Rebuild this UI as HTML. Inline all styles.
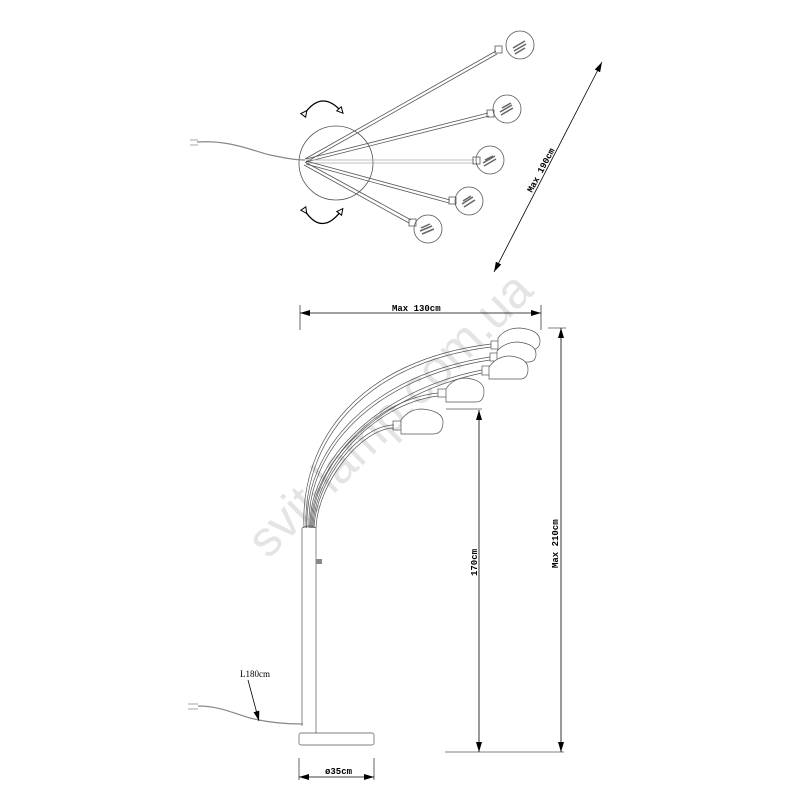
<!DOCTYPE html>
<html><head><meta charset="utf-8"><style>
html,body{margin:0;padding:0;background:#fff;}
svg{display:block}
text{font-family:"Liberation Mono","DejaVu Sans Mono",monospace;}
</style></head><body>
<svg width="800" height="800" viewBox="0 0 800 800" xmlns="http://www.w3.org/2000/svg">
<defs>
<marker id="ah" viewBox="0 0 10 6" refX="10" refY="3" markerWidth="10" markerHeight="6" orient="auto-start-reverse" markerUnits="userSpaceOnUse"><path d="M0,0 L10,3 L0,6 z" fill="#000"/></marker>
<marker id="oa" viewBox="0 0 8 8" refX="4" refY="4" markerWidth="8" markerHeight="8" orient="auto" markerUnits="userSpaceOnUse"><path d="M1,1 L7,4 L1,7 z" fill="#fff" stroke="#000" stroke-width="1"/></marker>
</defs>
<text x="0" y="0" font-size="50" fill="#e4e4e4" transform="translate(268,560) rotate(-45)" style="font-family:'Liberation Sans',sans-serif">svit-lamp.com.ua</text>

<g fill="none" stroke="#555" stroke-width="0.8">
<circle cx="336" cy="163" r="37"/>
<path d="M197,142 C230,140 250,150 270,155 C285,158 295,160 305,160" stroke="#888" stroke-width="1.2"/>
<path d="M190,140 h8 M190,145 h8" stroke="#888"/>
<path d="M305,159 L496,51 M306,162 L497,54"/>
<path d="M306,159 L488,113 M306,162 L489,116"/>
<path d="M307,160 L474,160 M307,163 L474,163" stroke="#aaa"/>
<path d="M306,161 L450,200 M306,164 L449,203"/>
<path d="M305,162 L411,220 M304,165 L409,223"/>
<rect x="495" y="46" width="7" height="7"/>
<rect x="487" y="110" width="7" height="7"/>
<rect x="473" y="157" width="7" height="7"/>
<rect x="449" y="197" width="7" height="7"/>
<rect x="409" y="219" width="7" height="7"/>
<circle cx="520" cy="45" r="14"/>
<circle cx="507" cy="109" r="14"/>
<circle cx="490" cy="160" r="14"/>
<circle cx="469" cy="201" r="14"/>
<circle cx="428" cy="229" r="14"/>
</g>
<g stroke="#666" stroke-width="1.5">
<path d="M513,48 l12,-7 M514,51 l12,-7 M515,54 l10,-6"/>
<path d="M500,112 l12,-7 M501,115 l12,-7 M502,108 l9,-5"/>
<path d="M483,163 l12,-7 M484,166 l12,-7 M485,160 l8,-4"/>
<path d="M462,204 l11,-7 M464,207 l11,-7 M463,201 l8,-5"/>
<path d="M420,231 l12,-5 M422,234 l12,-5 M421,228 l9,-4"/>
</g>
<path d="M305,113 Q322,90 341,111" fill="none" stroke="#000" stroke-width="1.3" marker-start="url(#oa)" marker-end="url(#oa)"/>
<path d="M305,211 Q322,236 341,211" fill="none" stroke="#000" stroke-width="1.3" marker-start="url(#oa)" marker-end="url(#oa)"/>
<line x1="602" y1="62" x2="494" y2="272" stroke="#000" stroke-width="0.8" marker-start="url(#ah)" marker-end="url(#ah)"/>
<text x="0" y="0" font-size="9" font-weight="bold" transform="translate(532,193) rotate(-62)">Max 190cm</text>

<line x1="300" y1="313" x2="541" y2="313" stroke="#000" stroke-width="0.8" marker-start="url(#ah)" marker-end="url(#ah)"/>
<line x1="300" y1="305" x2="300" y2="330" stroke="#000" stroke-width="0.6"/>
<line x1="541" y1="305" x2="541" y2="330" stroke="#000" stroke-width="0.6"/>
<text x="392" y="311" font-size="9" font-weight="bold">Max 130cm</text>

<g fill="none" stroke="#555" stroke-width="0.7">
<path d="M304,528 C300,440 360,360 491,344"/>
<path d="M306,528 C303,442 362,363 491,347"/>
<path d="M307,528 C304,450 370,375 490,357"/>
<path d="M309,528 C306,452 372,378 490,360"/>
<path d="M310,528 C308,460 380,390 482,370"/>
<path d="M311,528 C310,462 382,394 482,373"/>
<path d="M312,528 C312,470 370,400 438,393"/>
<path d="M313,528 C314,472 372,404 438,396"/>
<path d="M314,528 C316,480 360,425 394,425"/>
<path d="M316,528 C318,482 362,428 394,428"/>
<rect x="491" y="341" width="8" height="8"/>
<rect x="490" y="353" width="8" height="8"/>
<rect x="482" y="366" width="8" height="9"/>
<rect x="438" y="389" width="9" height="8"/>
<rect x="393" y="421" width="9" height="9"/>
<path d="M498,350 L498,338 Q505,328 520,328 Q540,330 540,341 Q540,350 530,350 Z" fill="#fff"/>
<path d="M497,362 L497,351 Q505,342 518,342 Q536,344 536,354 Q536,362 528,362 Z" fill="#fff"/>
<path d="M489,379 L489,367 Q497,356 510,356 Q528,358 528,369 Q528,379 520,379 Z" fill="#fff"/>
<path d="M446,402 L446,389 Q453,378 466,378 Q484,380 484,391 Q484,402 476,402 Z" fill="#fff"/>
<path d="M401,434 L401,420 Q409,409 422,409 Q443,411 443,422 Q443,434 433,434 Z" fill="#fff"/>
<line x1="302" y1="528" x2="302" y2="726"/>
<line x1="316" y1="528" x2="316" y2="733"/>
<path d="M302,528 Q309,524 316,528" />
<rect x="299" y="733" width="75" height="12" rx="2"/>
<rect x="316" y="559" width="6" height="5" fill="#888" stroke="none"/>
<path d="M198,706 C220,706 235,714 250,718 C270,723 290,724 303,724" stroke="#888" stroke-width="1.2"/>
<path d="M188,704 h10 M188,709 h10" stroke="#888"/>
</g>
<text x="240" y="677" font-size="9" style="font-family:'Liberation Serif',serif">L180cm</text>
<line x1="248" y1="680" x2="259" y2="721" stroke="#000" stroke-width="0.8" marker-end="url(#ah)"/>

<line x1="299" y1="758" x2="299" y2="780" stroke="#000" stroke-width="0.6"/>
<line x1="374" y1="758" x2="374" y2="780" stroke="#000" stroke-width="0.6"/>
<line x1="299" y1="777" x2="374" y2="777" stroke="#000" stroke-width="0.8" marker-start="url(#ah)" marker-end="url(#ah)"/>
<text x="325" y="774" font-size="9" font-weight="bold">ø35cm</text>

<line x1="445" y1="752" x2="564" y2="752" stroke="#000" stroke-width="0.6"/>
<line x1="446" y1="409" x2="482" y2="409" stroke="#000" stroke-width="0.6"/>
<line x1="548" y1="328" x2="566" y2="328" stroke="#000" stroke-width="0.6"/>
<line x1="479" y1="410" x2="479" y2="752" stroke="#000" stroke-width="0.8" marker-start="url(#ah)" marker-end="url(#ah)"/>
<line x1="561" y1="328" x2="561" y2="752" stroke="#000" stroke-width="0.8" marker-start="url(#ah)" marker-end="url(#ah)"/>
<text x="0" y="0" font-size="9" font-weight="bold" transform="translate(477,576) rotate(-90)">170cm</text>
<text x="0" y="0" font-size="9" font-weight="bold" transform="translate(558,568) rotate(-90)">Max 210cm</text>
</svg>
</body></html>
